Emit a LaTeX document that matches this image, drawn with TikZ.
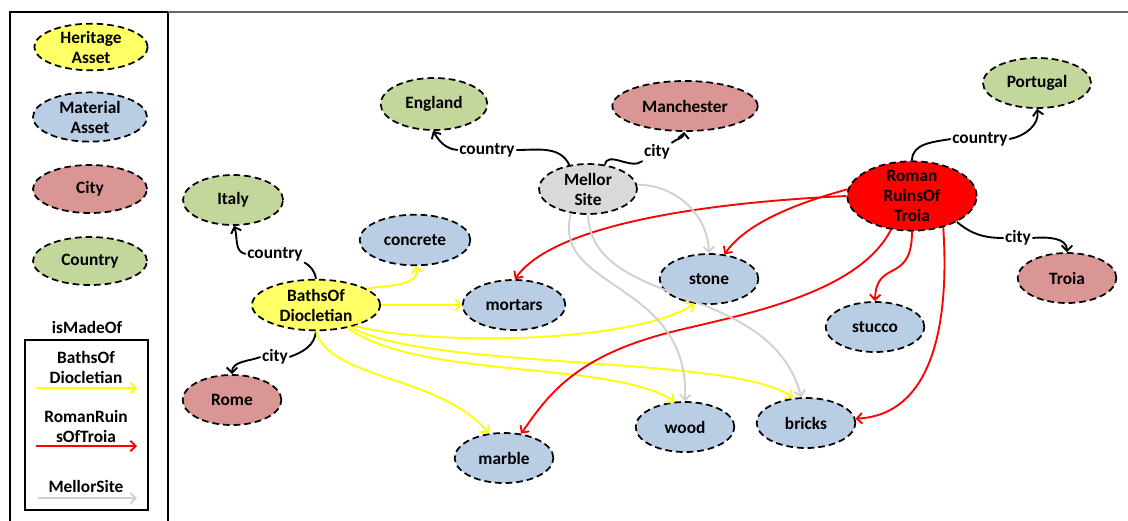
\documentclass[tikz,border=0pt]{standalone}
\usepackage{fontspec}
\setmainfont{Carlito}
\usetikzlibrary{shapes.geometric,arrows.meta}
\definecolor{heritage}{HTML}{FFFF66}
\definecolor{material}{HTML}{B9CDE5}
\definecolor{cityc}{HTML}{D99694}
\definecolor{countryc}{HTML}{C3D69B}
\definecolor{mellorc}{HTML}{D9D9D9}
\definecolor{romanc}{HTML}{FF0000}
\definecolor{ylw}{HTML}{FFFF00}
\definecolor{rd}{HTML}{FF0000}
\definecolor{gry}{HTML}{D0D0D0}
\tikzset{
  ent/.style={ellipse, draw=black, line width=1.3pt, dash pattern=on 5pt off 3pt,
    inner sep=0pt, align=center, minimum width=74pt, minimum height=37.5pt},
  herit/.style={ent, fill=heritage},
  mat/.style={ent, fill=material},
  cty/.style={ent, fill=cityc},
  ctry/.style={ent, fill=countryc},
  lbl/.style={inner sep=1pt, fill=white},
  rel/.style={draw=black, line width=1.4pt},
  relarr/.style={rel, -{Straight Barb[length=4pt,width=8pt]}},
  made/.style={line width=1.4pt, -{Straight Barb[length=4pt,width=8pt]}},
  yl/.style={made, draw=ylw},
  rl/.style={made, draw=rd},
  gl/.style={made, draw=gry},
}
\begin{document}
\begin{tikzpicture}[x=0.75pt,y=-0.75pt, font=\fontsize{13}{15}\selectfont\bfseries]
\useasboundingbox (0,0) rectangle (1128,521);

% frames
\draw[line width=1.3pt] (10,521) -- (10,12) -- (168,12) -- (168,521);
\draw[line width=0.8pt, black!60] (168,12) -- (1128,12);

% legend: node kinds
\node[herit, minimum width=85pt, minimum height=35pt] (kHer) at (91,47) {Heritage\\Asset};
\node[mat, minimum width=85.5pt, minimum height=37pt] (kMat) at (90,117) {Material\\Asset};
\node[cty, minimum width=85.5pt, minimum height=36pt] (kCity) at (90,189) {City};
\node[ctry, minimum width=85.5pt, minimum height=36pt] (kCtry) at (90,261) {Country};

% legend: isMadeOf
\node (kMade) at (87,327) {isMadeOf};
\draw[line width=1.3pt] (25,340) rectangle (148,510);
\node[align=center] (kB) at (86,367) {BathsOf\\Diocletian};
\coordinate (kB1) at (36,388); \coordinate (kB2) at (137,388);
\draw[yl] (kB1) -- (kB2);
\node[align=center] (kR) at (86,426) {RomanRuin\\sOfTroia};
\coordinate (kR1) at (36,446); \coordinate (kR2) at (137,446);
\draw[rl] (kR1) -- (kR2);
\node (kM) at (86,486) {MellorSite};
\coordinate (kM1) at (38,498); \coordinate (kM2) at (137,498);
\draw[gl] (kM1) -- (kM2);

% heritage assets
\node[herit, minimum width=96pt, minimum height=38pt] (baths) at (316,305) {BathsOf\\Diocletian};
\node[ent, fill=mellorc, minimum width=73.5pt] (mellor) at (588,189) {Mellor\\Site};
\node[ent, fill=romanc, minimum width=97pt, minimum height=52pt, inner sep=-3pt] (roman) at (912,196) {Roman\\RuinsOf\\Troia};

% countries and cities
\node[ctry, minimum width=80pt, minimum height=39pt] (england) at (434,104) {England};
\node[ctry, minimum width=75pt] (italy) at (233,200) {Italy};
\node[ctry, minimum width=81pt] (portugal) at (1037,83) {Portugal};
\node[cty, minimum width=109pt] (manchester) at (685,106) {Manchester};
\node[cty] (rome) at (232,400) {Rome};
\node[cty] (troia) at (1067,278) {Troia};

% materials
\node[mat, minimum width=83pt, minimum height=38pt] (concrete) at (415,240) {concrete};
\node[mat] (stone) at (709,279) {stone};
\node[mat, minimum width=77pt] (mortars) at (514,305) {mortars};
\node[mat] (marble) at (504,458) {marble};
\node[mat] (wood) at (685,427) {wood};
\node[mat] (bricks) at (806,423) {bricks};
\node[mat] (stucco) at (875,327) {stucco};

% country / city relations
\node[lbl] (lMEng) at (487,150) {country};
\draw[rel] (mellor.128) to[out=115, in=0] (lMEng.east);
\draw[relarr] (lMEng.west) to[out=175, in=-60] (england.-92);

\node[lbl] (lMMan) at (657,152) {city};
\draw[rel] (mellor.55) to[out=80, in=220] (lMMan.south west);
\draw[relarr] (lMMan.north east) to[out=40, in=-95] (manchester.-92);

\node[lbl] (lBIt) at (275,254) {country};
\draw[rel] (baths.90) to[out=100, in=-30] (lBIt.south east);
\draw[relarr] (lBIt.west) to[out=170, in=-70] (italy.-88);

\node[lbl] (lBRo) at (275,357) {city};
\draw[rel] (baths.-90) to[out=-95, in=20] (lBRo.east);
\draw[relarr] (lBRo.west) to[out=200, in=90] (rome.90);

\node[lbl] (lRPo) at (980,139) {country};
\draw[rel] (roman.90) to[out=90, in=190] (lRPo.west);
\draw[relarr] (lRPo.east) to[out=10, in=-80] (portugal.-90);

\node[lbl] (lRTr) at (1018,238) {city};
\draw[rel] (roman.-30) to[out=-40, in=180] (lRTr.west);
\draw[relarr] (lRTr.east) to[out=5, in=90] (troia.90);

% isMadeOf: BathsOfDiocletian
\draw[yl] (baths.18) to[out=10, in=-80] (concrete.-88);
\draw[yl] (baths.0) -- (mortars.180);
\draw[yl] (baths.-28) .. controls (420,345) and (630,345) .. (stone.-120);
\draw[yl] (baths.-32) .. controls (420,370) and (740,355) .. (bricks.118);
\draw[yl] (baths.-36) .. controls (420,380) and (610,360) .. (wood.112);
\draw[yl] (baths.-90) .. controls (330,380) and (440,375) .. (marble.122);

% isMadeOf: RomanRuinsOfTroia
\draw[rl] (roman.180) .. controls (760,200) and (560,215) .. (mortars.88);
\draw[rl] (roman.174) .. controls (790,205) and (745,225) .. (stone.58);
\draw[rl] (roman.-90) .. controls (912,285) and (876,258) .. (stucco.90);
\draw[rl] (roman.-122) .. controls (855,300) and (720,318) .. (660,335)
          .. controls (570,360) and (545,400) .. (marble.55);
\draw[rl] (roman.-45) .. controls (950,330) and (930,415) .. (bricks.5);

% isMadeOf: MellorSite
\draw[gl] (mellor.5) to[out=0, in=92] (stone.90);
\draw[gl] (mellor.-125) .. controls (550,290) and (690,280) .. (wood.90);
\draw[gl] (mellor.-90) .. controls (592,310) and (770,280) .. (bricks.100);
\end{tikzpicture}
\end{document}
